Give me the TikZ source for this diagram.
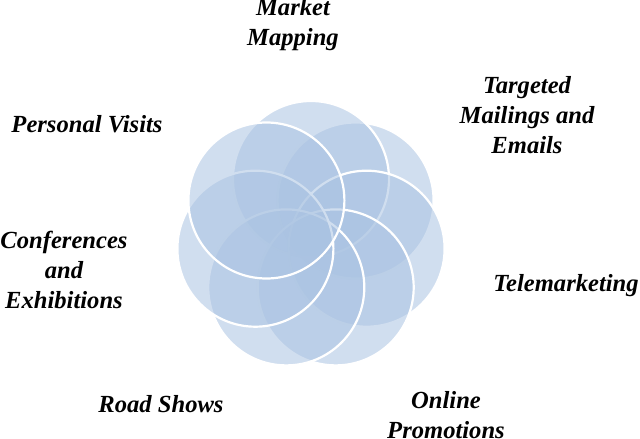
\documentclass[tikz,border=0pt]{standalone}
\usepackage{fontspec}
\setmainfont{Liberation Serif}
\definecolor{petal}{RGB}{170,195,226}
\begin{document}
\begin{tikzpicture}[x=1pt,y=-1pt,
  petalshape/.style={circle,minimum size=156pt,inner sep=0pt,outer sep=0pt,
    fill=petal,fill opacity=0.55,draw=white,draw opacity=1,line width=2.2pt},
  lbl/.style={font=\fontsize{24.6}{30}\selectfont\bfseries\itshape,align=center,
    inner sep=0pt,anchor=base,text=black}]
\useasboundingbox (0,0) rectangle (640,439);
% petals (drawing order matters for the outline look)
\node[petalshape] (pTarget) at (355.6,200.5) {};
\node[petalshape] (pMarket) at (311,179) {};
\node[petalshape] (pTele) at (366.6,248.7) {};
\node[petalshape] (pOnline) at (335.7,287.4) {};
\node[petalshape] (pRoad) at (286.3,287.4) {};
\node[petalshape] (pConf) at (255.4,248.7) {};
\node[petalshape] (pPersonal) at (266.4,200.5) {};
% labels (anchor = baseline of the last line)
\node[lbl] (lMarket) at (293,45) {Market\\Mapping};
\node[lbl] (lTarget) at (527,153) {Targeted\\Mailings and\\Emails};
\node[lbl] (lPersonal) at (87,132) {Personal Visits};
\node[lbl] (lTele) at (566,291) {Telemarketing};
\node[lbl] (lConf) at (64,308) {Conferences\\and\\Exhibitions};
\node[lbl] (lRoad) at (161,412) {Road Shows};
\node[lbl] (lOnline) at (446,438) {Online\\Promotions};
\end{tikzpicture}
\end{document}
